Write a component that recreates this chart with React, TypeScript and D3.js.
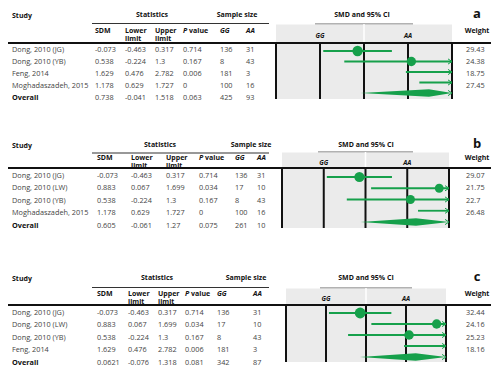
import * as d3 from "d3";
import { useEffect, useRef } from "react";

// panel a
const studiesA = ["Dong, 2010 (JG)", "Dong, 2010 (YB)", "Feng, 2014", "Moghadaszadeh, 2015", "Overall"];
const sdmA = [-0.073, 0.538, 1.629, 1.178, 0.738];
const lowerA = [-0.463, -0.224, 0.476, 0.629, -0.041];
const upperA = [0.317, 1.3, 2.782, 1.727, 1.518];
const pA = [0.714, 0.167, 0.006, 0, 0.063];
const ggA = [136, 8, 181, 100, 425];
const aaA = [31, 43, 3, 16, 93];
const weightA = [29.43, 24.38, 18.75, 27.45];

// panel b
const studiesB = ["Dong, 2010 (JG)", "Dong, 2010 (LW)", "Dong, 2010 (YB)", "Moghadaszadeh, 2015", "Overall"];
const sdmB = [-0.073, 0.883, 0.538, 1.178, 0.605];
const lowerB = [-0.463, 0.067, -0.224, 0.629, -0.061];
const upperB = [0.317, 1.699, 1.3, 1.727, 1.27];
const pB = [0.714, 0.034, 0.167, 0, 0.075];
const ggB = [136, 17, 8, 100, 261];
const aaB = [31, 10, 43, 16, 10];
const weightB = [29.07, 21.75, 22.7, 26.48];

// panel c
const studiesC = ["Dong, 2010 (JG)", "Dong, 2010 (LW)", "Dong, 2010 (YB)", "Feng, 2014", "Overall"];
const sdmC = [-0.073, 0.883, 0.538, 1.629, 0.0621];
const lowerC = [-0.463, 0.067, -0.224, 0.476, -0.076];
const upperC = [0.317, 1.699, 1.3, 2.782, 1.318];
const pC = [0.714, 0.034, 0.167, 0.006, 0.081];
const ggC = [136, 17, 8, 181, 342];
const aaC = [31, 10, 43, 3, 87];
const weightC = [32.44, 24.16, 25.23, 18.16];
// the diamond in c is drawn at ~0.62, not at the printed 0.0621
const diamondMidC = 0.621;

const smdTicks = [-1, -0.5, 0, 0.5, 1];
const colHeaders = ["SDM", "Lower", "Upper", "P value", "GG", "AA"];

const panels = [
    {
        label: "a", studies: studiesA, sdm: sdmA, lower: lowerA, upper: upperA, p: pA, gg: ggA, aa: aaA, weight: weightA, mid: sdmA[4],
        L: { top: 15, ul: 23.5, h1: 30, h2: 38, thick: 43, rows: [49.5, 97.5], plotRows: [51, 93], band: 24, bottom: 99,
            x0: 276, x1: 452, smd: [315, 413], smdCx: 362, cols: [95, 125, 155, 183, 220, 246], statsCx: 152, sampleCx: 237 },
    },
    {
        label: "b", studies: studiesB, sdm: sdmB, lower: lowerB, upper: upperB, p: pB, gg: ggB, aa: aaB, weight: weightB, mid: sdmB[4],
        L: { top: 145, ul: 153, h1: 157, h2: 165, thick: 168, rows: [175, 225], plotRows: [177, 222], band: 152, bottom: 228,
            x0: 282, x1: 449, smd: [318, 413], smdCx: 366, cols: [97, 131, 166, 199, 235, 257], statsCx: 160, sampleCx: 251 },
    },
    {
        label: "c", studies: studiesC, sdm: sdmC, lower: lowerC, upper: upperC, p: pC, gg: ggC, aa: aaC, weight: weightC, mid: diamondMidC,
        L: { top: 278, ul: 287.5, h1: 293, h2: 301, thick: 305, rows: [312, 362], plotRows: [313, 357], band: 288, bottom: 362,
            x0: 286, x1: 446, smd: [320, 412], smdCx: 366, cols: [97, 128, 158, 185, 217, 253], statsCx: 157, sampleCx: 246 },
    },
];

const GREEN = "#16a04b";
const FONT = "'Open Sans', 'Noto Sans', sans-serif";

export default function App() {
    const svgRef = useRef<SVGSVGElement>(null);

    useEffect(() => {
        const svg = d3.select(svgRef.current);
        svg.selectAll("*").remove();
        svg.attr("font-family", FONT);

        panels.forEach(pn => {
            const L = pn.L;
            const g = svg.append("g");
            const idx = d3.range(pn.studies.length);

            const yText = d3.scalePoint<number>().domain(idx).range(L.rows);
            const yPlot = d3.scalePoint<number>().domain(idx).range(L.plotRows);
            const x = d3.scaleLinear().domain([-1, 1]).range([L.x0, L.x1]);
            const r = d3.scaleSqrt().domain([0, 100]).range([0, 9.5]);

            // headers
            const bold = (sel) => sel.attr("font-weight", "bold").attr("font-size", 7).attr("fill", "#111");
            g.append("text").attr("x", 12).attr("y", L.top + 3).text("Study").call(bold);
            g.append("text").attr("x", L.statsCx).attr("y", L.top + 2).attr("text-anchor", "middle").text("Statistics").call(bold);
            g.append("text").attr("x", L.sampleCx).attr("y", L.top + 2).attr("text-anchor", "middle").text("Sample size").call(bold);
            g.append("line").attr("x1", 92).attr("x2", 269).attr("y1", L.ul).attr("y2", L.ul)
                .attr("stroke", "#333").attr("stroke-width", 1.2);

            colHeaders.forEach((h, i) => {
                const t = g.append("text").attr("x", L.cols[i]).attr("y", L.h1 + 2.5).text(h).call(bold);
                if (i >= 4) t.attr("font-style", "italic");
                if (i === 3) {
                    t.text(null);
                    t.append("tspan").attr("font-style", "italic").text("P");
                    t.append("tspan").text(" value");
                }
            });
            ["limit", "limit"].forEach((h, i) => {
                g.append("text").attr("x", L.cols[i + 1]).attr("y", L.h2 + 2.5).text(h).call(bold);
            });

            g.append("text").attr("x", L.smdCx).attr("y", L.top + 2).attr("text-anchor", "middle")
                .text("SMD and 95% CI").call(bold);
            g.append("line").attr("x1", L.smd[0]).attr("x2", L.smd[1]).attr("y1", L.band).attr("y2", L.band)
                .attr("stroke", "#666").attr("stroke-width", 1.2);
            g.append("text").attr("x", 477).attr("y", L.top + 3).attr("text-anchor", "middle")
                .attr("font-weight", "bold").attr("font-size", 13).attr("fill", "#111").text(pn.label);
            g.append("text").attr("x", 477).attr("y", L.h1 + 2.5).attr("text-anchor", "middle").text("Weight").call(bold);

            // plot background
            g.append("rect").attr("x", L.x0).attr("y", L.band + 0.5).attr("width", L.x1 - L.x0)
                .attr("height", L.bottom - L.band - 0.5).attr("fill", "#ebebeb");
            g.append("line").attr("x1", x(0)).attr("x2", x(0)).attr("y1", L.band).attr("y2", L.thick)
                .attr("stroke", "white").attr("stroke-width", 1.5);
            const mids = [-0.5, 0.5];
            mids.forEach(v => {
                g.append("text").attr("x", x(v)).attr("y", L.h2).attr("text-anchor", "middle")
                    .attr("font-style", "italic").text(v < 0 ? "GG" : "AA").call(bold).attr("font-size", 6.5);
            });

            g.append("line").attr("x1", 8).attr("x2", 491).attr("y1", L.thick).attr("y2", L.thick)
                .attr("stroke", "#111").attr("stroke-width", 2);

            g.selectAll("line.tick").data(smdTicks).enter().append("line")
                .attr("x1", d => x(d)).attr("x2", d => x(d))
                .attr("y1", L.thick).attr("y2", L.bottom)
                .attr("stroke", "#111").attr("stroke-width", 2);

            // table rows
            const cells = idx.map(i => [
                pn.sdm[i], pn.lower[i], pn.upper[i], pn.p[i], pn.gg[i], pn.aa[i],
            ]);
            idx.forEach(i => {
                const yy = yText(i) + 2.6;
                const last = i === idx.length - 1;
                g.append("text").attr("x", 12).attr("y", yy).attr("font-size", 7.3)
                    .attr("fill", last ? "#111" : "#444").attr("font-weight", last ? "bold" : "normal")
                    .text(pn.studies[i]);
                cells[i].forEach((v, j) => {
                    g.append("text").attr("x", L.cols[j]).attr("y", yy).attr("font-size", 7.3)
                        .attr("fill", "#444").text(String(v));
                });
                if (!last) {
                    g.append("text").attr("x", 466).attr("y", yy).attr("font-size", 7.3)
                        .attr("fill", "#444").text(String(pn.weight[i]));
                }
            });

            // CI lines and points
            const arrow = (yy) => {
                g.append("path")
                    .attr("d", `M${L.x1 - 4},${yy - 2.6}L${L.x1},${yy}L${L.x1 - 4},${yy + 2.6}`)
                    .attr("fill", "none").attr("stroke", GREEN).attr("stroke-width", 1);
            };
            const clamp = (v) => Math.max(-1, Math.min(1, v));

            idx.slice(0, -1).forEach(i => {
                const yy = yPlot(i);
                g.append("line")
                    .attr("x1", x(clamp(pn.lower[i]))).attr("x2", x(clamp(pn.upper[i])))
                    .attr("y1", yy).attr("y2", yy)
                    .attr("stroke", GREEN).attr("stroke-width", 1.8);
                if (pn.upper[i] > 1) arrow(yy);
                if (pn.sdm[i] >= -1 && pn.sdm[i] <= 1) {
                    g.append("circle").attr("cx", x(pn.sdm[i])).attr("cy", yy)
                        .attr("r", r(pn.weight[i])).attr("fill", GREEN);
                }
            });

            // overall diamond
            const o = idx.length - 1;
            const yo = yPlot(o);
            const dh = 3.8;
            const pts: [number, number][] = [
                [x(clamp(pn.lower[o])), yo],
                [x(pn.mid), yo - dh],
                [x(clamp(pn.upper[o])), yo],
                [x(pn.mid), yo + dh],
            ];
            g.append("path").attr("d", d3.line()(pts) + "Z").attr("fill", GREEN);
            if (pn.upper[o] > 1) arrow(yo);
        });
    }, []);

    return (
        <svg ref={svgRef} width={500} height={374}
            style={{ position: "absolute", left: 0, top: 0, background: "white" }} />
    );
}
